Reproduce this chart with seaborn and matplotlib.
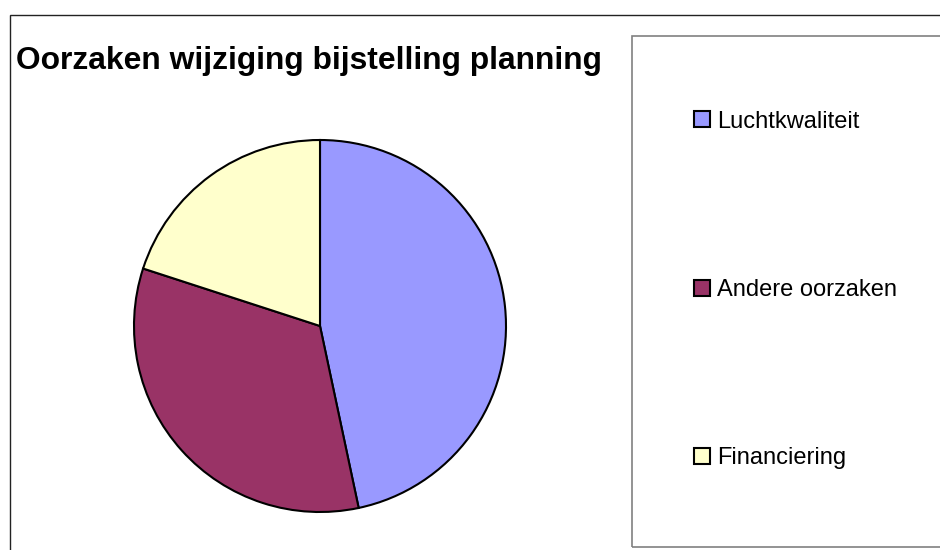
import matplotlib
matplotlib.use("Agg")
import matplotlib.pyplot as plt
from matplotlib.patches import Rectangle
import seaborn as sns

# pie data (clockwise from 12 o'clock)
categories = ['Luchtkwaliteit', 'Andere oorzaken', 'Financiering']
values = [7, 5, 3]
colors = ['#9999FF', '#993366', '#FFFFCC']

title = 'Oorzaken wijziging bijstelling planning'

sns.set_theme(style='white')
plt.rcParams['font.family'] = ['Liberation Sans', 'DejaVu Sans']
plt.rcParams['text.color'] = 'black'

W, H = 940, 550
fig = plt.figure(figsize=(W / 100, H / 100), dpi=100)
fig.patch.set_facecolor('white')

# pie axes: centre ~(320, 326) px, radius ~186 px
cx, cy, r = 320, 326, 186
ax = fig.add_axes([(cx - r) / W, (H - cy - r) / H, 2 * r / W, 2 * r / H])
pal = sns.color_palette(colors)
wedges, _ = ax.pie(values, colors=pal, startangle=90, counterclock=False,
                   wedgeprops=dict(edgecolor='black', linewidth=1.5))
for w in wedges:
    w.set_clip_on(False)
ax.set_xlim(-1, 1)
ax.set_ylim(-1, 1)
ax.set_aspect('equal')
ax.axis('off')

# outer chart frame (open to the right and bottom)
fig.add_artist(Rectangle((9.5 / W, -0.1), 2, 1 - 14.5 / H + 0.1,
                         transform=fig.transFigure, fill=False,
                         edgecolor='#222222', linewidth=1.0))
# legend frame
fig.add_artist(Rectangle((631.5 / W, (H - 546.5) / H), 1, (546.5 - 35.5) / H,
                         transform=fig.transFigure, fill=False,
                         edgecolor='#808080', linewidth=1.2))

fig.text(16 / W, 1 - 69.5 / H, title, fontsize=22.9, fontweight='bold',
         va='baseline', ha='left', color='black')

fs = 17
fig.legend(wedges, categories, loc='center left',
           bbox_to_anchor=(682 / W, (H - 290) / H),
           bbox_transform=fig.transFigure, frameon=False, fontsize=fs,
           borderpad=0, handlelength=0.68, handleheight=0.68,
           handletextpad=0.3, labelspacing=6.2, labelcolor='black')

fig.savefig('out.png', dpi=100, facecolor='white')
